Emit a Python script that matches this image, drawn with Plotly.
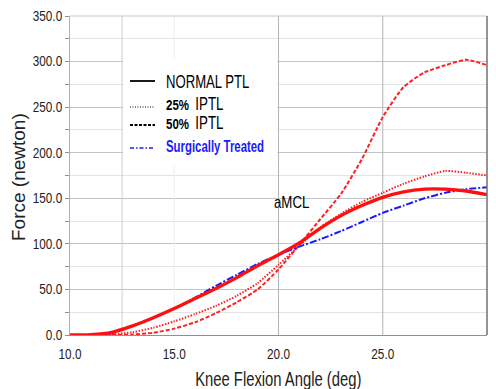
import plotly.graph_objects as go

angle = [10, 11, 12, 13, 14, 15, 16, 17, 18, 19, 20, 21, 22, 23, 24, 25, 26, 27, 28, 29, 30]
normal_ptl = [0, 0.5, 3, 10, 19, 29, 40, 51, 63, 76, 88, 101, 117, 131, 142, 151, 157, 160, 160, 158, 154]
iptl_25 = [0, 0, 0.5, 3, 8, 15, 23, 32, 43, 57, 77, 98, 118, 133, 146, 156, 166, 174, 180, 178, 175]
iptl_50 = [0, 0, 0, 0.5, 2.5, 7, 14, 24, 36, 50, 72, 99, 127, 155, 193, 239, 272, 288, 296, 302, 296]
surgical = [0, 0, 2, 10, 19, 29, 41, 54, 66, 78, 88, 97, 105, 114, 124, 134, 142, 150, 156, 160, 162]

x_ticks = [10, 15, 20, 25, 30]
y_ticks = [0, 50, 100, 150, 200, 250, 300, 350]

FONT = "Liberation Sans, Arial, sans-serif"

fig = go.Figure()
fig.add_trace(go.Scatter(x=angle, y=iptl_50, mode="lines", line=dict(color="#ff2020", width=2, dash="4px,2px", shape="spline", smoothing=0.6), showlegend=False))
fig.add_trace(go.Scatter(x=angle, y=iptl_25, mode="lines", line=dict(color="#ff2020", width=2, dash="1.5px,1.5px", shape="spline", smoothing=0.6), showlegend=False))
fig.add_trace(go.Scatter(x=angle, y=surgical, mode="lines", line=dict(color="#1a1aff", width=2, dash="7px,2px,2px,2px", shape="spline", smoothing=0.6), showlegend=False))
fig.add_trace(go.Scatter(x=angle, y=normal_ptl, mode="lines", line=dict(color="#ff1010", width=3.3, shape="spline", smoothing=0.6), showlegend=False))

shapes = []
# custom vertical grid lines
for xv, col in [(12.5, "#cfcfcf"), (15, "#efefef"), (20, "#b4b4b4"), (25, "#b4b4b4")]:
    shapes.append(dict(type="line", xref="x", yref="y", x0=xv, x1=xv, y0=0, y1=350, line=dict(color=col, width=1), layer="between"))
# white legend box
shapes.append(dict(type="rect", xref="x", yref="y", x0=12.55, x1=19.95, y0=187, y1=304, fillcolor="white", line=dict(width=0), layer="between"))
# top and right frame
shapes.append(dict(type="line", xref="paper", yref="paper", x0=0, x1=1, y0=1, y1=1, line=dict(color="#c8c8c8", width=1)))
shapes.append(dict(type="line", xref="paper", yref="paper", x0=1, x1=1, y0=0, y1=1, line=dict(color="#707070", width=1.5)))


def px(xp):
    return (xp - 70) / 417.0


def py(yp):
    return 1 - (yp - 16) / 319.0


leg = [(81, "solid", 1.8, "black"), (107, "1px,1.5px", 1.2, "black"), (125, "3px,1.5px", 1.8, "black"), (148, "4px,2px,1.5px,2px", 1.5, "#1a1aff")]
for yp, dash, w, col in leg:
    shapes.append(dict(type="line", xref="paper", yref="paper", x0=px(130), x1=px(155), y0=py(yp), y1=py(yp), line=dict(color=col, width=w, dash=dash)))

annotations = [
    dict(x=px(164), y=py(81), xref="paper", yref="paper", text="NORMAL PTL", showarrow=False, xanchor="left", align="left", yanchor="middle", font=dict(family=FONT, size=19, color="black")),
    dict(x=px(164), y=py(104), xref="paper", yref="paper", text="<b>25%</b>  <span style='font-size:18px'>IPTL</span>", showarrow=False, xanchor="left", align="left", yanchor="middle", font=dict(family=FONT, size=15.5, color="black")),
    dict(x=px(164), y=py(123), xref="paper", yref="paper", text="<b>50%</b>  <span style='font-size:18px'>IPTL</span>", showarrow=False, xanchor="left", align="left", yanchor="middle", font=dict(family=FONT, size=15.5, color="black")),
    dict(x=px(164), y=py(146), xref="paper", yref="paper", text="<b>Surgically Treated</b>", showarrow=False, xanchor="left", align="left", yanchor="middle", font=dict(family=FONT, size=16.5, color="#1a1aff")),
    dict(x=20.6, y=145, xref="x", yref="y", text="aMCL", showarrow=False, xanchor="center", yanchor="middle", font=dict(family=FONT, size=17, color="black")),
    dict(x=0.5, y=py(379), xref="paper", yref="paper", text="Knee Flexion Angle (deg)", showarrow=False, xanchor="center", yanchor="middle", font=dict(family=FONT, size=20, color="#222")),
    dict(x=px(18), y=py(177), xref="paper", yref="paper", text="Force (newton)", textangle=-90, showarrow=False, xanchor="center", yanchor="middle", font=dict(family=FONT, size=19, color="#222")),
]

fig.update_layout(
    width=496, height=389,
    margin=dict(l=70, r=9, t=16, b=54),
    paper_bgcolor="white", plot_bgcolor="white",
    font=dict(family=FONT, color="#222"),
    shapes=shapes, annotations=annotations,
    showlegend=False,
    xaxis=dict(range=[10, 30], tickvals=x_ticks, ticktext=[f"{v:.1f}" for v in x_ticks], showgrid=False, zeroline=False,
               showline=True, linecolor="#909090", linewidth=1, ticks="outside", ticklen=6, tickcolor="rgba(0,0,0,0)",
               tickfont=dict(size=14, color="#222")),
    yaxis=dict(range=[0, 350], tickvals=y_ticks, ticktext=[f"{v:.1f}" for v in y_ticks], showgrid=True, gridcolor="#c4c4c4", zeroline=False,
               showline=True, linecolor="#b0b0b0", linewidth=1, ticks="outside", ticklen=4, tickcolor="#909090",
               minor=dict(dtick=25, tick0=0, showgrid=True, gridcolor="#e4e4e4", ticks="outside", ticklen=4, tickcolor="#909090"),
               tickfont=dict(size=14, color="#222")),
)

# The reference text is horizontally condensed; squeeze glyph widths of the horizontal texts.
post_js = """
var gd = document.getElementById('{plot_id}');
function sqz(t, f) {
  if (!t) return;
  if (!t.dataset.natlen) { t.dataset.natlen = t.getComputedTextLength(); }
  t.setAttribute('textLength', parseFloat(t.dataset.natlen) * f);
  t.setAttribute('lengthAdjust', 'spacingAndGlyphs');
}
function runSqz() {
  var F = {0: 0.69, 1: 0.74, 2: 0.74, 3: 0.69, 4: 0.78, 5: 0.74};
  gd.querySelectorAll('g.annotation').forEach(function(g) {
    var i = g.getAttribute('data-index');
    if (F[i] === undefined) return;
    sqz(g.querySelector('text.annotation-text'), F[i]);
  });
  gd.querySelectorAll('g.xtick text, g.ytick text').forEach(function(t) { sqz(t, 0.84); });
}
runSqz();
"""

fig.write_html("out.html", post_script=post_js)
